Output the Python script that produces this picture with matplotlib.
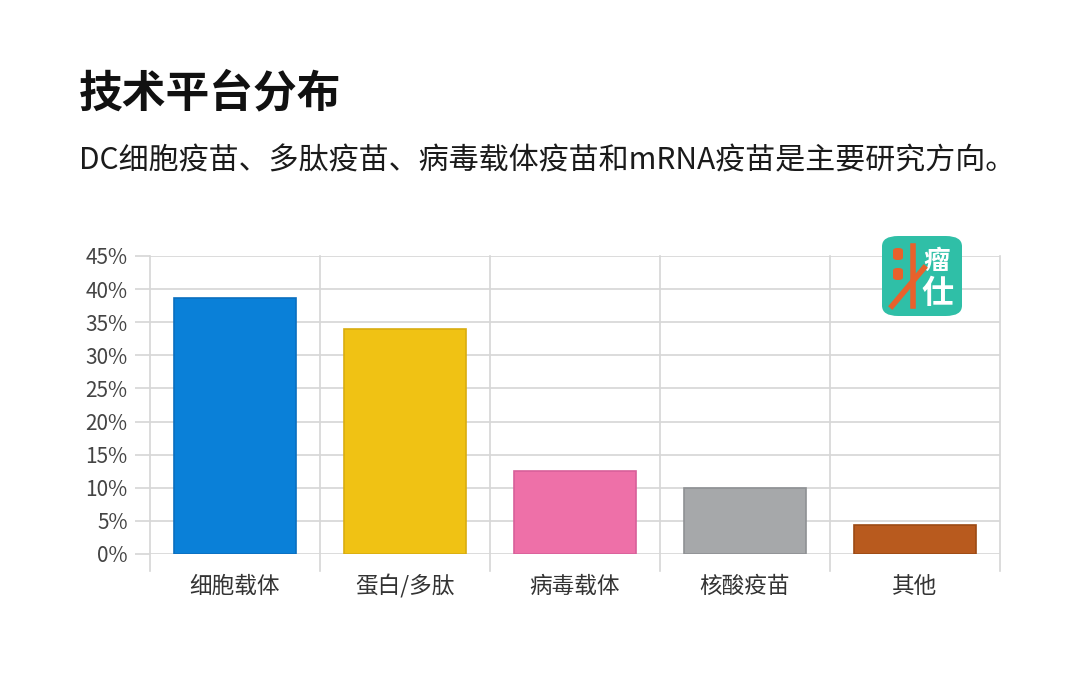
import matplotlib.pyplot as plt
from matplotlib.patches import FancyBboxPatch
from matplotlib.lines import Line2D

plt.rcParams['font.family'] = ['Noto Sans CJK SC', 'DejaVu Sans']

categories = ['细胞载体', '蛋白/多肽', '病毒载体', '核酸疫苗', '其他']
shares = [38.7, 34.0, 12.5, 10.0, 4.4]
colors = ['#0a80d8', '#f0c214', '#ee70a8', '#a6a8aa', '#b85a1e']
edges = ['#0a6fbf', '#d9ad10', '#d8609a', '#8f9194', '#9c4a14']
yticks = list(range(0, 50, 5))

W, H = 1080, 692
fig = plt.figure(figsize=(W / 100, H / 100), dpi=100)
fig.patch.set_facecolor('white')

# title and subtitle
fig.text(79 / W, 1 - 93 / H, '技术平台分布', fontsize=31.5, fontweight='bold',
         color='#111111', va='center', ha='left')
fig.text(79 / W, 1 - 161 / H, 'DC细胞疫苗、多肽疫苗、病毒载体疫苗和mRNA疫苗是主要研究方向。',
         fontsize=21.6, color='#1a1a1a', va='center', ha='left')

# plot area in pixels: x 150..1000, y 256 (45%) .. 554 (0%)
ax = fig.add_axes([150 / W, (H - 554) / H, 850 / W, 298 / H])
ax.set_xlim(-0.5, len(categories) - 0.5)
ax.set_ylim(0, 45)

grid_c = '#d6d6d6'
for y in yticks:
    ax.axhline(y, color=grid_c, lw=1.2, zorder=0)
for b in range(len(categories) + 1):
    ax.plot([b - 0.5, b - 0.5], [-2.5, 45], color=grid_c, lw=1.2,
            clip_on=False, zorder=0)

ax.bar(range(len(categories)), shares, width=0.72, color=colors,
       edgecolor=edges, linewidth=1.2, zorder=2)

ax.set_yticks(yticks)
ax.set_yticklabels([f'{v}%' for v in yticks], fontsize=15, color='#444444')
ax.set_xticks(range(len(categories)))
ax.set_xticklabels(categories, fontsize=16.3, color='#333333')
ax.tick_params(axis='y', length=11, color=grid_c, width=1.2, pad=5)
ax.tick_params(axis='x', length=0, pad=15)
for s in ax.spines.values():
    s.set_visible(False)
ax.set_facecolor('none')

# logo in the top right
lx, ly, ls = 882, 236, 80
logo = FancyBboxPatch((lx / W, 1 - (ly + ls) / H), ls / W, ls / H,
                      boxstyle='round,pad=0,rounding_size=0.015',
                      transform=fig.transFigure, facecolor='#2fbfa7',
                      edgecolor='none', zorder=5)
fig.patches.append(logo)
fig.text((lx + 55) / W, 1 - (ly + 25) / H, '瘤', fontsize=19, color='white',
         fontweight='bold', ha='center', va='center', zorder=6)
fig.text((lx + 55) / W, 1 - (ly + 58) / H, '仕', fontsize=23, color='white',
         fontweight='bold', ha='center', va='center', zorder=6)
orange = '#e8612c'
for dy in (12, 32):
    fig.patches.append(FancyBboxPatch(((lx + 11) / W, 1 - (ly + dy + 12) / H), 10 / W, 12 / H,
                                      boxstyle='round,pad=0,rounding_size=0.004',
                                      transform=fig.transFigure, facecolor=orange,
                                      edgecolor='none', zorder=6))
fig.lines.append(Line2D([(lx + 10) / W, (lx + 42) / W],
                        [1 - (ly + 70) / H, 1 - (ly + 32) / H],
                        transform=fig.transFigure, color=orange, lw=4, zorder=7))
fig.lines.append(Line2D([(lx + 31) / W, (lx + 31) / W],
                        [1 - (ly + 10) / H, 1 - (ly + 70) / H],
                        transform=fig.transFigure, color=orange, lw=4, zorder=6))

fig.savefig('out.png', dpi=100)
